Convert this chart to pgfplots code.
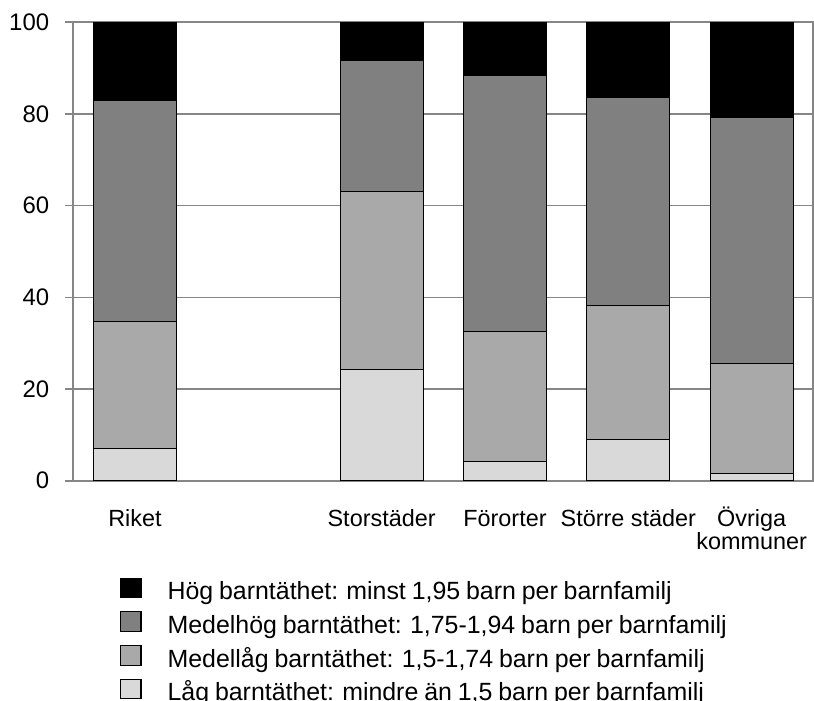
\documentclass[border=0pt]{standalone}
\usepackage{fontspec}
\setmainfont{Liberation Sans}
\newfontfamily\legfont{Liberation Sans}[WordSpace=0.85]
\usepackage{pgfplots}
\pgfplotsset{compat=1.18}
\definecolor{gridgray}{HTML}{868686}
\definecolor{hog}{HTML}{000000}
\definecolor{medhog}{HTML}{808080}
\definecolor{medlag}{HTML}{A9A9A9}
\definecolor{lag}{HTML}{D9D9D9}
\begin{document}
\begin{tikzpicture}
\begin{axis}[
  scale only axis, width=740bp, height=458.4bp,
  xmin=-0.5, xmax=5.5, ymin=0, ymax=100,
  ybar stacked, bar width=83bp,
  xtick={0,2,3,4,5},
  xticklabels={Riket,Storstäder,Förorter,Större städer,{\begin{tabular}[t]{@{}c@{}}Övriga\\[-1bp]kommuner\end{tabular}}},
  xtick style={draw=none},
  ytick={0,20,40,60,80,100},
  ytick align=outside, major tick length=8bp,
  ytick style={gridgray, line width=1.6bp},
  ymajorgrids, grid style={gridgray, line width=1.6bp},
  axis line style={gridgray, line width=1.8bp},
  xticklabel style={font=\fontsize{23.5}{25}\selectfont, anchor=base, yshift=-45.3bp},
  yticklabel style={font=\fontsize{24}{26}\selectfont, anchor=east, inner sep=0pt, xshift=-16bp},
  /pgf/number format/assume math mode=true,
  reverse legend,
  legend image code/.code={\draw[#1] (0bp,-4bp) rectangle (20.5bp,15.3bp);},
  legend style={at={(0.0631,-0.2112)}, anchor=north west, draw=none, fill=none,
    inner sep=0pt, outer sep=0pt, row sep=6.5bp, column sep=26bp,
    font=\legfont\fontsize{25}{27}\selectfont,
    nodes={inner sep=0pt, text height=17.5bp, text depth=5.5bp}},
  legend cell align=left,
]
\addplot[fill=lag, draw=black, line width=1.1bp] coordinates {(0,7.0) (2,24.3) (3,4.2) (4,9.0) (5,1.6)};
\addlegendentry{Låg barntäthet: mindre än 1,5 barn per barnfamilj}
\addplot[fill=medlag, draw=black, line width=1.1bp] coordinates {(0,27.7) (2,38.7) (3,28.3) (4,29.3) (5,24.0)};
\addlegendentry{Medellåg barntäthet: 1,5-1,74 barn per barnfamilj}
\addplot[fill=medhog, draw=black, line width=1.1bp] coordinates {(0,48.2) (2,28.6) (3,55.9) (4,45.4) (5,53.7)};
\addlegendentry{Medelhög barntäthet: 1,75-1,94 barn per barnfamilj}
\addplot[fill=hog, draw=black, line width=1.1bp] coordinates {(0,17.1) (2,8.4) (3,11.6) (4,16.3) (5,20.7)};
\addlegendentry{Hög barntäthet: minst 1,95 barn per barnfamilj}
\end{axis}
\pgfresetboundingbox
\path (current axis.south west) ++(-73.3bp,-220.3bp) rectangle ++(814bp,701bp);
\end{tikzpicture}
\end{document}
